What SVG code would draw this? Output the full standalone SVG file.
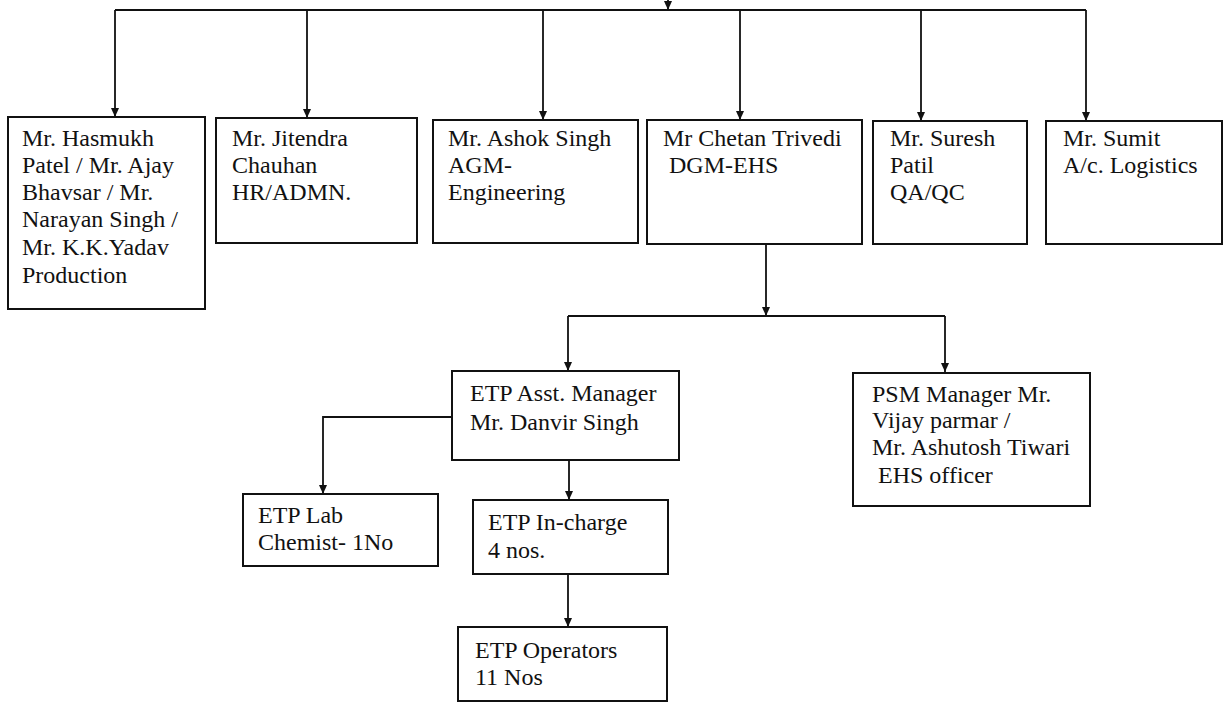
<svg xmlns="http://www.w3.org/2000/svg" width="1225" height="708" viewBox="0 0 1225 708">
<style>
.box{fill:#fff;stroke:#111;stroke-width:2}
text{font-family:'Liberation Serif','Times New Roman',serif;font-size:24px;fill:#111}
.c{fill:none;stroke:#111;stroke-width:1.8}
</style>
<defs>
<marker id="ah" markerWidth="10" markerHeight="10" refX="9" refY="5" orient="auto" markerUnits="userSpaceOnUse">
<path d="M0,1 L9,5 L0,9 Z" fill="#111"/>
</marker>
</defs>
<rect width="1225" height="708" fill="#fff"/>
<g id="connectors">
<path class="c" d="M668,0 L668,10" marker-end="url(#ah)"/>
<path class="c" d="M115,10 L1086,10"/>
<path class="c" d="M115,10 L115,117" marker-end="url(#ah)"/>
<path class="c" d="M307,10 L307,118" marker-end="url(#ah)"/>
<path class="c" d="M543,10 L543,120" marker-end="url(#ah)"/>
<path class="c" d="M740,10 L740,120" marker-end="url(#ah)"/>
<path class="c" d="M921,10 L921,121" marker-end="url(#ah)"/>
<path class="c" d="M1086,10 L1086,121" marker-end="url(#ah)"/>
<path class="c" d="M766,244 L766,316" marker-end="url(#ah)"/>
<path class="c" d="M568,316 L945,316"/>
<path class="c" d="M568,316 L568,371" marker-end="url(#ah)"/>
<path class="c" d="M945,316 L945,372" marker-end="url(#ah)"/>
<path class="c" d="M452,417 L323,417 L323,494" marker-end="url(#ah)"/>
<path class="c" d="M569,460 L569,500" marker-end="url(#ah)"/>
<path class="c" d="M568,574 L568,627" marker-end="url(#ah)"/>
</g>
<g id="n-production">
<rect class="box" x="8" y="117" width="197" height="192"/>
<text><tspan x="22" y="146">Mr. Hasmukh</tspan><tspan x="22" y="173">Patel / Mr. Ajay</tspan><tspan x="22" y="200">Bhavsar / Mr.</tspan><tspan x="22" y="227">Narayan Singh /</tspan><tspan x="22" y="255">Mr. K.K.Yadav</tspan><tspan x="22" y="283">Production</tspan></text>
</g>
<g id="n-hr">
<rect class="box" x="216" y="118" width="201" height="125"/>
<text><tspan x="232" y="146">Mr. Jitendra</tspan><tspan x="232" y="173">Chauhan</tspan><tspan x="232" y="200">HR/ADMN.</tspan></text>
</g>
<g id="n-eng">
<rect class="box" x="433" y="120" width="205" height="123"/>
<text><tspan x="448" y="146">Mr. Ashok Singh</tspan><tspan x="448" y="173">AGM-</tspan><tspan x="448" y="200">Engineering</tspan></text>
</g>
<g id="n-ehs">
<rect class="box" x="647" y="120" width="215" height="124"/>
<text><tspan x="663" y="146">Mr Chetan Trivedi</tspan><tspan x="669" y="173">DGM-EHS</tspan></text>
</g>
<g id="n-qa">
<rect class="box" x="873" y="121" width="154" height="123"/>
<text><tspan x="890" y="146">Mr. Suresh</tspan><tspan x="890" y="173">Patil</tspan><tspan x="890" y="200">QA/QC</tspan></text>
</g>
<g id="n-logistics">
<rect class="box" x="1046" y="121" width="176" height="123"/>
<text><tspan x="1063" y="146">Mr. Sumit</tspan><tspan x="1063" y="173">A/c. Logistics</tspan></text>
</g>
<g id="n-etp-asst">
<rect class="box" x="452" y="371" width="227" height="89"/>
<text><tspan x="470" y="401">ETP Asst. Manager</tspan><tspan x="470" y="430">Mr. Danvir Singh</tspan></text>
</g>
<g id="n-psm">
<rect class="box" x="853" y="373" width="237" height="133"/>
<text><tspan x="872" y="402">PSM Manager Mr.</tspan><tspan x="872" y="428">Vijay parmar /</tspan><tspan x="872" y="455">Mr. Ashutosh Tiwari</tspan><tspan x="878" y="483">EHS officer</tspan></text>
</g>
<g id="n-lab">
<rect class="box" x="243" y="494" width="195" height="72"/>
<text><tspan x="258" y="523">ETP Lab</tspan><tspan x="258" y="550">Chemist- 1No</tspan></text>
</g>
<g id="n-incharge">
<rect class="box" x="473" y="500" width="195" height="74"/>
<text><tspan x="488" y="530">ETP In-charge</tspan><tspan x="488" y="558">4 nos.</tspan></text>
</g>
<g id="n-operators">
<rect class="box" x="458" y="627" width="209" height="74"/>
<text><tspan x="475" y="658">ETP Operators</tspan><tspan x="475" y="685">11 Nos</tspan></text>
</g>
</svg>
